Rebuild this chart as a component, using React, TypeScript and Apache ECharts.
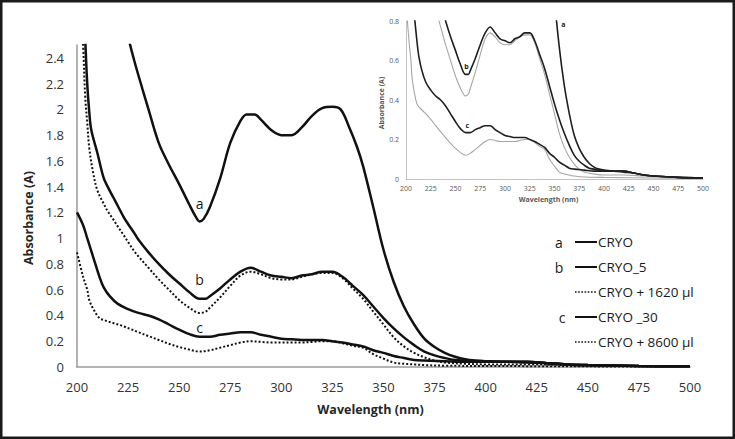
import React, { useEffect, useRef } from "react";
import * as echarts from "echarts";

// Curve a — CRYO
const aWl = [200, 210, 218, 222, 225, 228, 232, 235, 240, 245, 250, 255, 258, 260, 262, 265, 270, 275, 280, 283, 287, 290, 295, 300, 305, 310, 315, 320, 325, 329, 333, 337, 340, 345, 350, 355, 360, 365, 370, 375, 380, 385, 390, 395, 400, 410, 420, 430, 440, 450, 475, 500];
const aAbs = [6.0, 4.4, 3.3, 2.85, 2.57, 2.38, 2.16, 2.0, 1.74, 1.57, 1.42, 1.26, 1.17, 1.13, 1.15, 1.24, 1.46, 1.74, 1.91, 1.96, 1.96, 1.92, 1.84, 1.80, 1.80, 1.86, 1.95, 2.01, 2.02, 2.0, 1.87, 1.71, 1.56, 1.24, 0.91, 0.66, 0.47, 0.33, 0.22, 0.155, 0.11, 0.08, 0.06, 0.05, 0.045, 0.04, 0.04, 0.03, 0.02, 0.015, 0.008, 0.005];

// Curve b — CRYO_5
const bWl = [200, 202, 204, 205, 206, 207, 210, 213, 215, 218, 220, 223, 225, 228, 230, 235, 240, 245, 250, 255, 260, 263, 265, 270, 275, 280, 285, 290, 295, 300, 305, 310, 315, 320, 325, 330, 335, 340, 345, 350, 355, 360, 365, 370, 375, 380, 385, 390, 400, 410, 420, 430, 440, 450, 475, 500];
const bAbs = [4.5, 3.2, 2.55, 2.2, 1.98, 1.84, 1.66, 1.47, 1.4, 1.31, 1.25, 1.16, 1.11, 1.04, 0.99, 0.89, 0.8, 0.72, 0.65, 0.58, 0.53, 0.53, 0.55, 0.61, 0.68, 0.74, 0.77, 0.74, 0.71, 0.70, 0.69, 0.71, 0.72, 0.74, 0.74, 0.70, 0.63, 0.56, 0.47, 0.38, 0.30, 0.23, 0.17, 0.12, 0.09, 0.07, 0.055, 0.05, 0.04, 0.04, 0.035, 0.03, 0.02, 0.015, 0.008, 0.005];

// CRYO + 1620 µl
const bdWl = [200, 202, 203, 204, 205, 206, 208, 210, 213, 215, 218, 220, 223, 225, 228, 230, 235, 240, 245, 250, 255, 260, 263, 265, 270, 275, 280, 285, 290, 295, 300, 305, 310, 315, 320, 325, 330, 335, 340, 345, 350, 355, 360, 365, 370, 375, 380, 390, 400, 420, 440, 460, 500];
const bdAbs = [4.0, 2.8, 2.5, 2.1, 1.9, 1.7, 1.5, 1.37, 1.27, 1.21, 1.14, 1.09, 1.02, 0.97, 0.9, 0.86, 0.77, 0.68, 0.6, 0.52, 0.46, 0.42, 0.43, 0.46, 0.54, 0.63, 0.71, 0.74, 0.72, 0.69, 0.68, 0.68, 0.7, 0.72, 0.73, 0.73, 0.69, 0.61, 0.53, 0.43, 0.33, 0.23, 0.16, 0.11, 0.075, 0.05, 0.035, 0.025, 0.02, 0.02, 0.015, 0.01, 0.005];

// Curve c — CRYO _30
const cWl = [200, 203, 205, 208, 211, 213, 216, 220, 225, 230, 235, 240, 245, 250, 255, 260, 265, 270, 275, 280, 285, 290, 295, 300, 305, 310, 315, 320, 325, 330, 335, 340, 345, 350, 355, 360, 365, 370, 380, 390, 400, 410, 420, 430, 440, 450, 475, 500];
const cAbs = [1.2, 1.1, 1.0, 0.85, 0.7, 0.62, 0.55, 0.49, 0.45, 0.42, 0.4, 0.37, 0.33, 0.29, 0.255, 0.235, 0.235, 0.25, 0.26, 0.27, 0.27, 0.25, 0.235, 0.22, 0.215, 0.21, 0.21, 0.21, 0.2, 0.19, 0.175, 0.16, 0.13, 0.11, 0.085, 0.07, 0.055, 0.05, 0.045, 0.04, 0.04, 0.04, 0.04, 0.03, 0.02, 0.015, 0.008, 0.005];

// CRYO + 8600 µl
const cdWl = [200, 203, 205, 206, 208, 211, 214, 218, 222, 227, 230, 235, 240, 245, 250, 255, 260, 265, 270, 275, 280, 285, 290, 295, 300, 305, 310, 315, 320, 325, 330, 335, 340, 345, 350, 355, 360, 365, 370, 380, 400, 450, 500];
const cdAbs = [0.89, 0.7, 0.6, 0.52, 0.45, 0.38, 0.36, 0.34, 0.32, 0.29, 0.27, 0.24, 0.21, 0.18, 0.155, 0.135, 0.12, 0.13, 0.15, 0.17, 0.19, 0.2, 0.195, 0.19, 0.19, 0.19, 0.19, 0.195, 0.2, 0.2, 0.185, 0.165, 0.15, 0.1, 0.065, 0.035, 0.025, 0.02, 0.015, 0.01, 0.008, 0.005, 0.003];

const seriesNames = ["CRYO", "CRYO_5", "CRYO + 1620 µl", "CRYO _30", "CRYO + 8600 µl"];
const legendLetters = ["a", "b", "", "c", ""];
const seriesDotted = [false, false, true, false, true];

// Curve letter annotations: letter, grid, anchor [wavelength, absorbance]
const curveLetters = ["a", "b", "c"];
const mainLetterAnchors = [[260, 1.27], [260, 0.68], [260, 0.31]];
const insetLetterAnchors = [[359, 0.78], [261, 0.57], [262, 0.27]];

const zip = (xs: number[], ys: number[]) => xs.map((x, i) => [x, ys[i]]);

export default function App() {
  const ref = useRef<HTMLDivElement>(null);
  useEffect(() => {
    document.body.style.margin = "0";
    if (!ref.current) return;
    const chart = echarts.init(ref.current, undefined, { renderer: "svg" });
    const datasets = [zip(aWl, aAbs), zip(bWl, bAbs), zip(bdWl, bdAbs), zip(cWl, cAbs), zip(cdWl, cdAbs)];
    const font = "'Open Sans', sans-serif";

    const mainSeries = datasets.map((d, i) => ({
      type: "line",
      name: seriesNames[i],
      xAxisIndex: 0,
      yAxisIndex: 0,
      data: d,
      showSymbol: false,
      smooth: 0.35,
      clip: true,
      z: 3,
      lineStyle: seriesDotted[i]
        ? { color: "#111", width: 2, type: [2, 2] }
        : { color: "#111", width: 2.5 },
    }));

    const insetOrder = [2, 4, 0, 1, 3];
    const insetSeries = insetOrder.map((i) => ({
      type: "line",
      name: seriesNames[i] + " (inset)",
      xAxisIndex: 1,
      yAxisIndex: 1,
      data: datasets[i],
      showSymbol: false,
      smooth: 0.35,
      clip: true,
      z: 5,
      lineStyle: seriesDotted[i]
        ? { color: "#a6a6a6", width: 1.1 }
        : { color: "#1f1f1f", width: 1.6 },
    }));

    const legendGraphics: any[] = [];
    seriesNames.forEach((name, i) => {
      const y = 242 + i * 25;
      if (legendLetters[i]) {
        legendGraphics.push({
          type: "text",
          x: legendLetters[i] === "c" ? 562 : 559,
          y,
          style: { text: legendLetters[i], font: `14px ${font}`, fill: "#1a1a1a", align: "center", verticalAlign: "middle" },
        });
      }
      legendGraphics.push({
        type: "line",
        shape: { x1: 575, y1: y, x2: 597, y2: y },
        style: seriesDotted[i]
          ? { stroke: "#111", lineWidth: 1.6, lineDash: [1.6, 1.6] }
          : { stroke: "#111", lineWidth: 2 },
      });
      legendGraphics.push({
        type: "text",
        x: 598,
        y,
        style: { text: name, font: `13.5px ${font}`, fill: "#1a1a1a", align: "left", verticalAlign: "middle" },
      });
    });

    const baseGraphics: any[] = [
      {
        type: "rect",
        shape: { x: 1.25, y: 1.25, width: 732.5, height: 436.5 },
        style: { fill: "none", stroke: "#1a1a1a", lineWidth: 2.5 },
        z: 10,
      },
      ...legendGraphics,
    ];

    chart.setOption({
      animation: false,
      backgroundColor: "#ffffff",
      grid: [
        { left: 77, right: 45, top: 45, bottom: 72 },
        { left: 406, right: 32, top: 21, bottom: 260 },
      ],
      xAxis: [
        {
          type: "value",
          gridIndex: 0,
          min: 200,
          max: 500,
          interval: 25,
          axisLine: { show: true, lineStyle: { color: "#9a9a9a", width: 1.5 } },
          axisTick: { show: false },
          splitLine: { show: false },
          axisLabel: { fontSize: 13, color: "#333", margin: 13, fontFamily: font },
          name: "Wavelength (nm)",
          nameLocation: "middle",
          nameGap: 36,
          nameTextStyle: { fontWeight: "bold", fontSize: 12.5, color: "#262626", fontFamily: font, padding: [0, 26, 0, 0] },
        },
        {
          type: "value",
          gridIndex: 1,
          min: 200,
          max: 500,
          interval: 25,
          axisLine: { show: true, lineStyle: { color: "#c4c4c4", width: 1 } },
          axisTick: { show: false },
          splitLine: { show: false },
          axisLabel: { fontSize: 7, color: "#595959", margin: 6, fontFamily: font },
          name: "Wavelength (nm)",
          nameLocation: "middle",
          nameGap: 17,
          nameTextStyle: { fontWeight: "bold", fontSize: 7, color: "#595959", fontFamily: font, padding: [0, 12, 0, 0] },
        },
      ],
      yAxis: [
        {
          type: "value",
          gridIndex: 0,
          min: 0,
          max: 2.5,
          interval: 0.2,
          axisLine: { show: true, lineStyle: { color: "#9a9a9a", width: 1.5 } },
          axisTick: { show: false },
          splitLine: { show: false },
          axisLabel: { fontSize: 13, color: "#333", margin: 13, fontFamily: font, showMaxLabel: false },
          name: "Absorbance (A)",
          nameLocation: "middle",
          nameGap: 36,
          nameRotate: 90,
          nameTextStyle: { fontWeight: "bold", fontSize: 12.5, color: "#262626", fontFamily: font, padding: [0, 24, 0, 0] },
        },
        {
          type: "value",
          gridIndex: 1,
          min: 0,
          max: 0.8,
          interval: 0.2,
          axisLine: { show: true, lineStyle: { color: "#c4c4c4", width: 1 } },
          axisTick: { show: false },
          splitLine: { show: false },
          axisLabel: { fontSize: 7, color: "#595959", margin: 7, fontFamily: font },
          name: "Absorbance (A)",
          nameLocation: "middle",
          nameGap: 18,
          nameRotate: 90,
          nameTextStyle: { fontWeight: "bold", fontSize: 7, color: "#595959", fontFamily: font, padding: [0, 6, 0, 0] },
        },
      ],
      graphic: baseGraphics,
      series: [...mainSeries, ...insetSeries],
    });

    // Curve letters placed through the axes' own scales
    const letterGraphics: any[] = [];
    curveLetters.forEach((letter, k) => {
      const pm = chart.convertToPixel({ gridIndex: 0 } as any, mainLetterAnchors[k]) as number[];
      letterGraphics.push({
        type: "text",
        x: pm[0],
        y: pm[1],
        z: 20,
        style: { text: letter, font: `14px ${font}`, fill: "#1a1a1a", align: "center", verticalAlign: "middle" },
      });
      const pi = chart.convertToPixel({ gridIndex: 1 } as any, insetLetterAnchors[k]) as number[];
      letterGraphics.push({
        type: "text",
        x: pi[0],
        y: pi[1],
        z: 20,
        style: { text: letter, font: `bold 7px ${font}`, fill: "#1a1a1a", align: "center", verticalAlign: "middle" },
      });
    });
    chart.setOption({ graphic: [...baseGraphics, ...letterGraphics] });

    return () => chart.dispose();
  }, []);
  return <div ref={ref} style={{ width: 735, height: 439 }} />;
}
